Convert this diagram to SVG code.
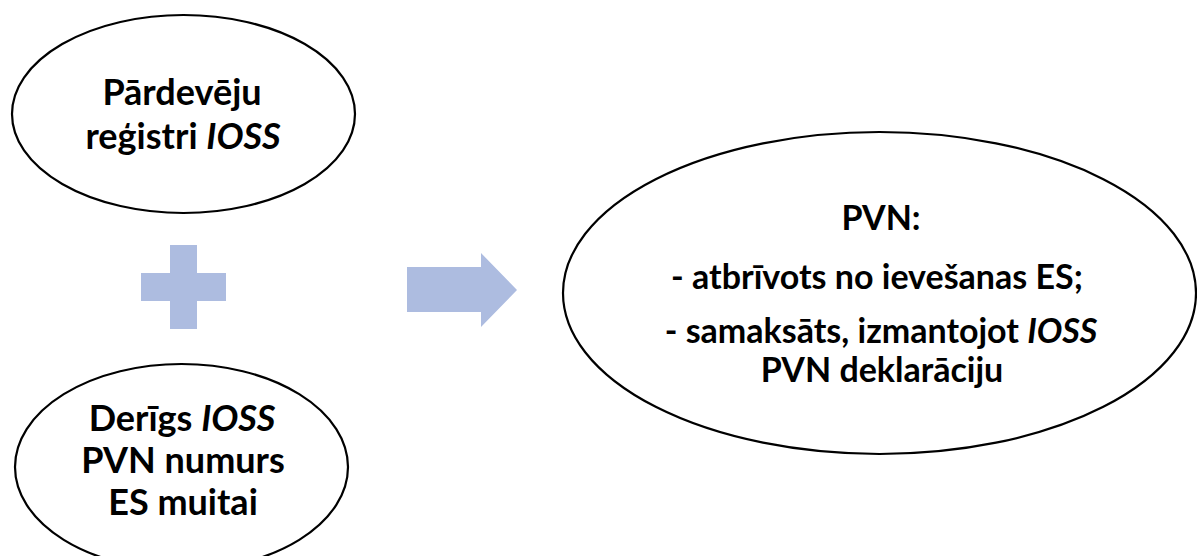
<svg xmlns="http://www.w3.org/2000/svg" width="1197" height="556" viewBox="0 0 1197 556">
<style>
.node{fill:#ffffff;stroke:#000000;stroke-width:2.2}
.shape{fill:#ADBCE0;stroke:none}
text{font-family:Lato,"Open Sans","Liberation Sans",sans-serif;font-weight:bold;fill:#000;text-anchor:middle}
.l{font-size:36px}
.r{font-size:34px}
.it{font-style:italic}
</style>
<rect width="1197" height="556" fill="#ffffff"/>
<g id="node-registri">
<ellipse class="node" cx="183.5" cy="114" rx="171.5" ry="99"/>
<text class="l" x="182" y="105">Pārdevēju</text>
<text class="l" x="183" y="149">reģistri <tspan class="it">IOSS</tspan></text>
</g>
<g id="plus">
<polygon class="shape" points="170,245 197,245 197,273 226,273 226,301 197,301 197,329 170,329 170,301 141,301 141,273 170,273"/>
</g>
<g id="node-numurs">
<ellipse class="node" cx="181.5" cy="467" rx="166.5" ry="103"/>
<text class="l" x="182" y="431">Derīgs <tspan class="it">IOSS</tspan></text>
<text class="l" x="183" y="473">PVN numurs</text>
<text class="l" x="183" y="515">ES muitai</text>
</g>
<g id="connectors">
<polygon class="shape" points="407,267 481,267 481,253 517,290 481,327 481,312 407,312"/>
</g>
<g id="node-pvn">
<ellipse class="node" cx="879.5" cy="293" rx="316.5" ry="161"/>
<text class="r" x="881" y="230">PVN:</text>
<text class="r" x="877" y="289">- atbrīvots no ievešanas ES;</text>
<text class="r" x="881" y="343">- samaksāts, izmantojot <tspan class="it">IOSS</tspan></text>
<text class="r" x="882" y="382">PVN deklarāciju</text>
</g>
</svg>
